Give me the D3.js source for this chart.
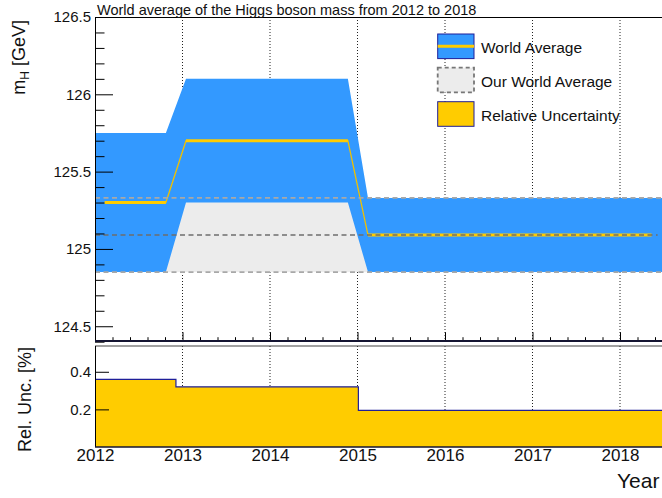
<!DOCTYPE html>
<html>
<head>
<meta charset="utf-8">
<script src="https://cdn.jsdelivr.net/npm/d3@7"></script>
<style>
  html, body { margin: 0; padding: 0; background: #fff; }
  svg { display: block; font-family: "Liberation Sans", Arial, Helvetica, sans-serif; }
</style>
</head>
<body>
<svg id="chart" width="662" height="498"></svg>
<script>
// ---------------- data ----------------
const title = "World average of the Higgs boson mass from 2012 to 2018";
const yearTicks = [2012, 2013, 2014, 2015, 2016, 2017, 2018];
const massTicks = [124.5, 125, 125.5, 126, 126.5];
const relTicks = [0.2, 0.4];

// World average band (blue), years and lower / upper edges (GeV)
const bandYears = [2012.0, 2012.81, 2013.04, 2014.89, 2015.12, 2019.0];
const bandLow   = [124.85, 124.85, 125.30, 125.30, 124.85, 124.85];
const bandHigh  = [125.75, 125.75, 126.10, 126.10, 125.33, 125.33];

// World average central value (yellow line)
const lineYears = [2012.11, 2012.81, 2013.04, 2014.89, 2015.12, 2018.36];
const lineMass  = [125.30, 125.30, 125.70, 125.70, 125.09, 125.09];

// Our world average
const ourValue = 125.09, ourLow = 124.85, ourHigh = 125.33;

// Relative uncertainty [%] step histogram
const relEdges  = [2012.0, 2012.925, 2015.01, 2019.0];
const relValues = [0.36, 0.32, 0.195];

const legendLabels = ["World Average", "Our World Average", "Relative Uncertainty"];

// ---------------- layout ----------------
const svg = d3.select("#chart");
const L = 95, Rfull = 707.5, W = 662;
const topT = 17, topB = 341.7;
const lowT = 346, lowB = 447;

const x = d3.scaleLinear().domain([2012, 2019]).range([L, Rfull]);
const y = d3.scaleLinear().domain([124.4, 126.5]).range([topB, topT]);
const y2 = d3.scaleLinear().domain([0, 0.537]).range([lowB, lowT]);

const defs = svg.append("defs");
defs.append("clipPath").attr("id", "clipTop").append("rect")
  .attr("x", L).attr("y", topT).attr("width", W - L).attr("height", topB - topT);
defs.append("clipPath").attr("id", "clipLow").append("rect")
  .attr("x", L).attr("y", lowT).attr("width", W - L).attr("height", lowB - lowT);

const BLUE = "#3399ff", YEL = "#ffcc00", GREY = "#ececec", NAVY = "#1f1f99";

// ---------------- top panel ----------------
const gTop = svg.append("g").attr("clip-path", "url(#clipTop)");

// vertical grid
gTop.selectAll("line.grid").data(yearTicks.slice(1)).enter().append("line")
  .attr("x1", d => x(d)).attr("x2", d => x(d)).attr("y1", topT).attr("y2", topB)
  .attr("stroke", "#222").attr("stroke-width", 1).attr("stroke-dasharray", "1,2");

// our world average band
gTop.append("rect")
  .attr("x", x(2012)).attr("width", x(2019) - x(2012))
  .attr("y", y(ourHigh)).attr("height", y(ourLow) - y(ourHigh))
  .attr("fill", GREY);

// world average band
const bandData = bandYears.map((t, i) => ({ t, lo: bandLow[i], hi: bandHigh[i] }));
gTop.append("path").datum(bandData)
  .attr("d", d3.area().x(d => x(d.t)).y0(d => y(d.lo)).y1(d => y(d.hi)))
  .attr("fill", BLUE);

// central line
const lineData = lineYears.map((t, i) => ({ t, m: lineMass[i] }));
gTop.append("path").datum(lineData)
  .attr("d", d3.line().x(d => x(d.t)).y(d => y(d.m)))
  .attr("fill", "none").attr("stroke", "#f0c000").attr("stroke-width", 1.3);
const flatSegs = [];
for (let i = 0; i < lineData.length - 1; i++) {
  if (lineData[i].m === lineData[i + 1].m) flatSegs.push([lineData[i], lineData[i + 1]]);
}
gTop.selectAll("line.flat").data(flatSegs).enter().append("line")
  .attr("x1", d => x(d[0].t)).attr("x2", d => x(d[1].t))
  .attr("y1", d => y(d[0].m)).attr("y2", d => y(d[1].m))
  .attr("stroke", YEL).attr("stroke-width", 3);

// dashed lines of our world average
[ourLow, ourHigh].forEach(v => {
  gTop.append("line").attr("x1", x(2012)).attr("x2", x(2019))
    .attr("y1", y(v)).attr("y2", y(v))
    .attr("stroke", "#a8a8a8").attr("stroke-width", 1.6).attr("stroke-dasharray", "5,3.5");
});
gTop.append("line").attr("x1", x(2012)).attr("x2", x(2018.43))
  .attr("y1", y(ourValue)).attr("y2", y(ourValue))
  .attr("stroke", "#6e6e6e").attr("stroke-width", 1.6).attr("stroke-dasharray", "5,3.5");

// y axis (top)
const minorMass = d3.range(1244, 1266).map(v => v / 10).filter(v => !massTicks.includes(v));
svg.append("g").attr("transform", `translate(${L},0)`)
  .call(d3.axisLeft(y).tickValues(minorMass).tickSizeInner(-9.5).tickSizeOuter(0).tickFormat(""))
  .call(g => g.select(".domain").remove())
  .call(g => g.selectAll("line").attr("stroke", "#000"));
svg.append("g").attr("transform", `translate(${L},0)`)
  .call(d3.axisLeft(y).tickValues(massTicks).tickSizeInner(-18).tickSizeOuter(0).tickPadding(4)
    .tickFormat(d3.format("")))
  .call(g => g.select(".domain").remove())
  .call(g => g.selectAll("line").attr("stroke", "#000"))
  .call(g => g.selectAll("text").attr("font-size", 15).attr("fill", "#111")
    .attr("font-family", "Liberation Sans, Arial, sans-serif"));

// x ticks at bottom of top panel
const minorYears = d3.range(20120, 20190, 2).map(v => v / 10).filter(v => Math.abs(v - Math.round(v)) > 1e-6);
svg.append("g").attr("transform", `translate(0,${topB})`)
  .call(d3.axisBottom(x).tickValues(minorYears).tickSizeInner(-4.5).tickSizeOuter(0).tickFormat(""))
  .call(g => g.select(".domain").remove())
  .call(g => g.selectAll("line").attr("stroke", "#000"));
svg.append("g").attr("transform", `translate(0,${topB})`)
  .call(d3.axisBottom(x).tickValues(yearTicks).tickSizeInner(-9.5).tickSizeOuter(0).tickFormat(""))
  .call(g => g.select(".domain").remove())
  .call(g => g.selectAll("line").attr("stroke", "#000"));

// frame top
svg.append("line").attr("x1", L).attr("x2", W).attr("y1", topT + 0.5).attr("y2", topT + 0.5)
  .attr("stroke", "#000").attr("stroke-width", 1);
svg.append("line").attr("x1", L + 0.5).attr("x2", L + 0.5).attr("y1", topT).attr("y2", topB)
  .attr("stroke", "#000").attr("stroke-width", 1);
svg.append("line").attr("x1", L).attr("x2", W).attr("y1", 341).attr("y2", 341)
  .attr("stroke", "#141432").attr("stroke-width", 2);

// title
svg.append("text").attr("x", 97).attr("y", 15).attr("font-size", 14.5).attr("fill", "#111")
  .text(title);

// y title top
svg.append("text").attr("transform", "translate(25,20) rotate(-90)")
  .attr("text-anchor", "end").attr("font-size", 18).attr("fill", "#111")
  .call(t => {
    t.append("tspan").text("m");
    t.append("tspan").attr("font-size", 12).attr("dy", 4).text("H");
    t.append("tspan").attr("dy", -4).text(" [GeV]");
  });

// legend
const lgX = 437.7, lgW = 36.3, lgH = 24.6;
const lgY = [34, 67.7, 101.7];
const lg = svg.append("g");
lg.append("rect").attr("x", lgX).attr("y", lgY[0]).attr("width", lgW).attr("height", lgH)
  .attr("fill", BLUE).attr("stroke", NAVY).attr("stroke-width", 1);
lg.append("line").attr("x1", lgX).attr("x2", lgX + lgW)
  .attr("y1", lgY[0] + lgH / 2).attr("y2", lgY[0] + lgH / 2)
  .attr("stroke", YEL).attr("stroke-width", 3);
lg.append("rect").attr("x", lgX).attr("y", lgY[1]).attr("width", lgW).attr("height", lgH)
  .attr("fill", GREY).attr("stroke", "#777").attr("stroke-width", 1.8).attr("stroke-dasharray", "4,3");
lg.append("rect").attr("x", lgX).attr("y", lgY[2]).attr("width", lgW).attr("height", lgH)
  .attr("fill", YEL).attr("stroke", NAVY).attr("stroke-width", 1);
lg.selectAll("text").data(legendLabels).enter().append("text")
  .attr("x", 481).attr("y", (d, i) => lgY[i] + 19)
  .attr("font-size", 15.5).attr("fill", "#111").text(d => d);

// ---------------- lower panel ----------------
const gLow = svg.append("g").attr("clip-path", "url(#clipLow)");
gLow.selectAll("line.grid").data(yearTicks.slice(1)).enter().append("line")
  .attr("x1", d => x(d)).attr("x2", d => x(d)).attr("y1", lowT).attr("y2", lowB)
  .attr("stroke", "#222").attr("stroke-width", 1).attr("stroke-dasharray", "1,2");

const stepData = relValues.map((v, i) => ({ t: relEdges[i], v }));
stepData.push({ t: relEdges[relEdges.length - 1], v: relValues[relValues.length - 1] });
gLow.append("path").datum(stepData)
  .attr("d", d3.area().curve(d3.curveStepAfter).x(d => x(d.t)).y0(y2(0)).y1(d => y2(d.v)))
  .attr("fill", YEL);
gLow.append("path").datum(stepData)
  .attr("d", d3.line().curve(d3.curveStepAfter).x(d => x(d.t)).y(d => y2(d.v)))
  .attr("fill", "none").attr("stroke", NAVY).attr("stroke-width", 1.2);

svg.append("g").attr("transform", `translate(${L},0)`)
  .call(d3.axisLeft(y2).tickValues(relTicks).tickSizeInner(-14).tickSizeOuter(0).tickPadding(4)
    .tickFormat(d3.format(".1f")))
  .call(g => g.select(".domain").remove())
  .call(g => g.selectAll("line").attr("stroke", "#000"))
  .call(g => g.selectAll("text").attr("font-size", 15).attr("fill", "#111")
    .attr("font-family", "Liberation Sans, Arial, sans-serif"));

svg.append("g").attr("transform", `translate(0,${lowB})`)
  .call(d3.axisBottom(x).tickValues(yearTicks).tickSize(0).tickPadding(2).tickFormat(d3.format("d")))
  .call(g => g.select(".domain").remove())
  .call(g => g.selectAll("text").attr("font-size", 17).attr("fill", "#111")
    .attr("font-family", "Liberation Sans, Arial, sans-serif"));

// frame lower
svg.append("line").attr("x1", L).attr("x2", W).attr("y1", lowT).attr("y2", lowT)
  .attr("stroke", "#444").attr("stroke-width", 1.2);
svg.append("line").attr("x1", L + 0.5).attr("x2", L + 0.5).attr("y1", lowT).attr("y2", lowB)
  .attr("stroke", "#000").attr("stroke-width", 1);
svg.append("line").attr("x1", L).attr("x2", W).attr("y1", lowB).attr("y2", lowB)
  .attr("stroke", "#141432").attr("stroke-width", 1.5);

svg.append("text").attr("transform", "translate(31,452) rotate(-90)")
  .attr("font-size", 18).attr("fill", "#111").text("Rel. Unc. [%]");

svg.append("text").attr("x", 617).attr("y", 488).attr("font-size", 21).attr("fill", "#111")
  .text("Year");
</script>
</body>
</html>
